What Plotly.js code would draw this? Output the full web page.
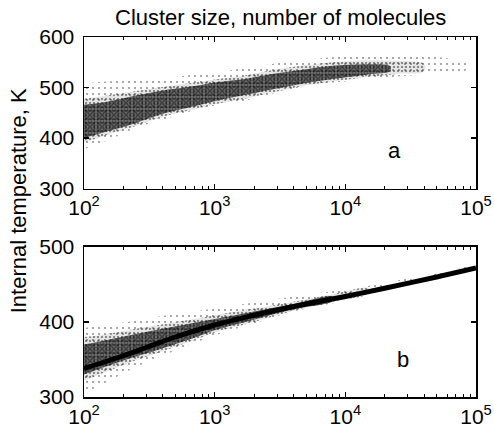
<!DOCTYPE html>
<html>
<head>
<meta charset="utf-8">
<script src="https://cdn.plot.ly/plotly-3.0.1.min.js"></script>
<style>html,body{margin:0;padding:0;background:#fff;}#chart{width:494px;height:438px;}</style>
</head>
<body>
<div id="chart"></div>
<script>
// ---- Panel a: scatter cloud envelopes (outer / mid / core density) ----
const aX          = [100, 150, 250, 400, 700, 1000, 1700, 3000, 5000, 8000, 15000, 25000, 40000, 60000, 85000];
const aOuterLow   = [378, 395, 420, 436, 455, 464, 474, 490, 503, 510, 516, 522, 526, 530, 535];
const aOuterHigh  = [508, 512, 515, 518, 526, 530, 538, 548, 555, 560, 563, 563, 562, 558, 548];
const aMidX       = [100, 150, 250, 400, 700, 1000, 1700, 3000, 5000, 8000, 15000, 25000, 40000];
const aMidLow     = [391, 406, 424, 442, 457, 467, 478, 492, 504, 512, 521, 527, 532];
const aMidHigh    = [478, 484, 493, 501, 510, 516, 524, 536, 544, 550, 554, 553, 547];
const aCoreX      = [100, 150, 250, 400, 700, 1000, 1700, 3000, 5000, 8000, 15000, 22000];
const aCoreLow    = [400, 413, 430, 448, 463, 473, 485, 498, 509, 517, 526, 532];
const aCoreHigh   = [466, 472, 484, 494, 503, 510, 517, 528, 536, 543, 546, 542];

// ---- Panel b: scatter cloud envelopes and fitted line ----
const bX          = [100, 150, 250, 400, 700, 1000, 2000, 4000, 8000, 15000, 30000, 60000, 100000];
const bOuterLow   = [305, 320, 340, 355, 372, 382, 398, 414, 425, 437, 450, 462, 469];
const bOuterHigh  = [392, 396, 402, 408, 414, 418, 426, 434, 441, 448, 458, 467, 475];
const bMidX       = [100, 150, 250, 400, 700, 1000, 2000, 4000, 8000, 15000];
const bMidLow     = [322, 334, 349, 361, 376, 386, 400, 415, 427, 438];
const bMidHigh    = [380, 384, 391, 397, 404, 409, 418, 427, 437, 445];
const bCoreX      = [100, 150, 250, 400, 700, 1000, 2000, 4000, 8000];
const bCoreLow    = [330, 341, 354, 365, 379, 389, 403, 417, 428];
const bCoreHigh   = [370, 376, 384, 391, 399, 404, 414, 424, 434];
const bLineX      = [100, 200, 300, 500, 1000, 2000, 3000, 5000, 10000, 20000, 50000, 100000];
const bLineY      = [338, 355, 366, 380, 396, 409, 416, 424, 434, 445, 460, 472];

// ---- Labels ----
const xTickVals = [100, 1000, 10000, 100000];
const xTickText = ['10<sup>2</sup>', '10<sup>3</sup>', '10<sup>4</sup>', '10<sup>5</sup>'];
const xMinorVals = [200,300,400,500,600,700,800,900,2000,3000,4000,5000,6000,7000,8000,9000,20000,30000,40000,50000,60000,70000,80000,90000];
const aYTicks = [300, 400, 500, 600];
const bYTicks = [300, 400, 500];
const titleText = 'Cluster size, number of molecules';
const yLabelText = 'Internal temperature, K';

function band(xs, lo, hi, xa, ya, size, solidity, bg) {
  return {
    x: xs.concat(xs.slice().reverse()),
    y: lo.concat(hi.slice().reverse()),
    xaxis: xa, yaxis: ya,
    type: 'scatter', mode: 'lines', fill: 'toself',
    line: {width: 0, color: 'rgba(0,0,0,0)', shape: 'spline'},
    fillcolor: bg,
    fillpattern: {shape: '.', size: size, solidity: solidity, fgcolor: '#000', fillmode: 'overlay'},
    hoverinfo: 'skip', showlegend: false
  };
}

const traces = [
  band(aX, aOuterLow, aOuterHigh, 'x', 'y', 6, 0.07, 'rgba(0,0,0,0)'),
  band(aMidX, aMidLow, aMidHigh, 'x', 'y', 4, 0.22, 'rgba(0,0,0,0.1)'),
  band(aCoreX, aCoreLow, aCoreHigh, 'x', 'y', 3, 0.45, 'rgba(0,0,0,0.5)'),
  band(bX, bOuterLow, bOuterHigh, 'x2', 'y2', 6, 0.07, 'rgba(0,0,0,0)'),
  band(bMidX, bMidLow, bMidHigh, 'x2', 'y2', 4, 0.22, 'rgba(0,0,0,0.1)'),
  band(bCoreX, bCoreLow, bCoreHigh, 'x2', 'y2', 3, 0.45, 'rgba(0,0,0,0.5)'),
  {x: bLineX, y: bLineY, xaxis: 'x2', yaxis: 'y2', type: 'scatter', mode: 'lines',
   line: {color: '#000', width: 5, shape: 'spline'}, showlegend: false, hoverinfo: 'skip'}
];

const FONT = '"Liberation Sans", Arial, Helvetica, sans-serif';
function xAxis(anchor) {
  return {
    type: 'log', range: [2, 5], anchor: anchor,
    tickmode: 'array', tickvals: xTickVals, ticktext: xTickText,
    ticks: 'inside', ticklen: 5, tickwidth: 1.2, tickcolor: '#000',
    minor: {tickmode: 'array', tickvals: xMinorVals, ticks: 'inside', ticklen: 3, tickwidth: 1, tickcolor: '#000', showgrid: false},
    showline: true, linecolor: '#000', linewidth: 1.5, mirror: 'allticks',
    showgrid: false, zeroline: false,
    tickfont: {family: FONT, size: 21, color: '#000'}
  };
}
function yAxis(range, ticks, domain, anchor) {
  return {
    range: range, domain: domain, anchor: anchor,
    tickmode: 'array', tickvals: ticks,
    ticks: 'inside', ticklen: 5, tickwidth: 1.2, tickcolor: '#000',
    showline: true, linecolor: '#000', linewidth: 1.5, mirror: 'allticks',
    showgrid: false, zeroline: false, ticklabelstandoff: 4,
    tickfont: {family: FONT, size: 21, color: '#000'}
  };
}

const layout = {
  width: 494, height: 438,
  margin: {l: 84, r: 18, t: 37, b: 41, pad: 0},
  paper_bgcolor: '#fff', plot_bgcolor: '#fff',
  showlegend: false,
  xaxis: xAxis('y'),
  yaxis: yAxis([300, 600], aYTicks, [0.579, 1], 'x'),
  xaxis2: xAxis('y2'),
  yaxis2: yAxis([300, 500], bYTicks, [0, 0.4167], 'x2'),
  annotations: [
    {text: titleText, xref: 'paper', yref: 'paper', x: 0.5, y: 1.053, xanchor: 'center', yanchor: 'middle',
     showarrow: false, font: {family: FONT, size: 22, color: '#000'}},
    {text: yLabelText, xref: 'paper', yref: 'paper', x: -0.168, y: 0.544, xanchor: 'center', yanchor: 'middle',
     textangle: -90, showarrow: false, font: {family: FONT, size: 22, color: '#000'}},
    {text: 'a', xref: 'paper', yref: 'paper', x: 0.793, y: 0.686, xanchor: 'center', yanchor: 'middle',
     showarrow: false, font: {family: FONT, size: 22, color: '#000'}},
    {text: 'b', xref: 'paper', yref: 'paper', x: 0.814, y: 0.103, xanchor: 'center', yanchor: 'middle',
     showarrow: false, font: {family: FONT, size: 22, color: '#000'}}
  ]
};

Plotly.newPlot('chart', traces, layout, {staticPlot: true, displayModeBar: false});
</script>
</body>
</html>
